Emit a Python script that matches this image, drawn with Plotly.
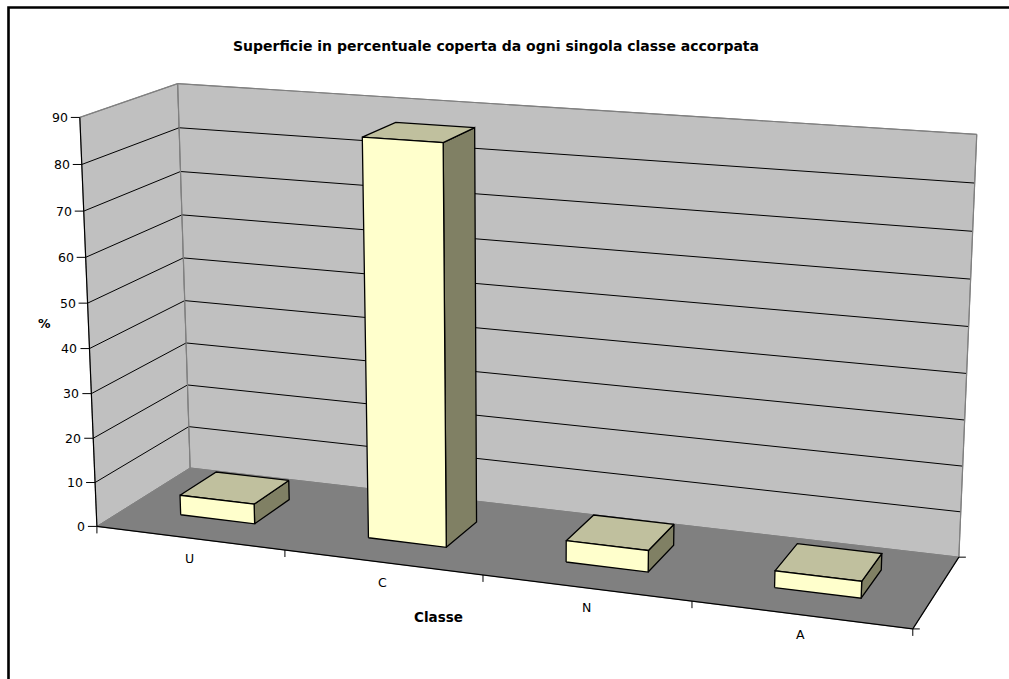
import numpy as np
import plotly.graph_objects as go

# ---- data -------------------------------------------------------------
categories = ["U", "C", "N", "A"]
values = [4.5, 87.2, 4.7, 3.6]          # % of surface per class
value_ticks = list(range(0, 91, 10))
y_max = 90

title = "Superficie in percentuale coperta da ogni singola classe accorpata"
x_title = "Classe"
y_title = "%"

# ---- 3D view: plot box (category, value, depth) -> page pixels ----------
W, H = 1009, 679
n_cat = len(categories)

# screen position of reference points of the plot box (camera calibration)
calib_world = [
    (0, 0, 0), (0, 90, 0), (0, 50, 0), (0, 90, 1), (0, 80, 1), (0, 10, 1),
    (0, 0, 1), (4, 0, 1), (4, 90, 1), (4, 50, 1), (4, 0, 0),
    (1, 0, 0), (2, 0, 0), (3, 0, 0),
]
calib_screen = [
    (97, 526), (80, 118), (87, 303), (178, 83), (179, 128), (189, 427),
    (190, 468), (959, 557), (977, 134), (968, 327), (913, 629),
    (285, 550), (483, 575), (692, 601),
]


def fit_camera(world, screen):
    wp = np.array([[x / n_cat, y / y_max, z] for x, y, z in world], float)
    sp = np.array(screen, float)
    mean = sp.mean(axis=0)
    scale = np.sqrt(2) / np.mean(np.linalg.norm(sp - mean, axis=1))
    T = np.array([[scale, 0, -scale * mean[0]],
                  [0, scale, -scale * mean[1]],
                  [0, 0, 1]])
    spn = (sp - mean) * scale
    rows = []
    for (X, Y, Z), (u, v) in zip(wp, spn):
        P = [X, Y, Z, 1.0]
        rows.append(P + [0, 0, 0, 0] + [-u * p for p in P])
        rows.append([0, 0, 0, 0] + P + [-v * p for p in P])
    _, _, vt = np.linalg.svd(np.array(rows))
    M = vt[-1].reshape(3, 4)
    return np.linalg.inv(T) @ M


CAM = fit_camera(calib_world, calib_screen)


def proj(x, y, z):
    h = CAM @ np.array([x / n_cat, y / y_max, z, 1.0])
    return h[0] / h[2], h[1] / h[2]


def poly(points, fill, line_color, line_width):
    pts = [proj(*p) for p in points]
    pts.append(pts[0])
    return go.Scatter(
        x=[p[0] for p in pts], y=[p[1] for p in pts],
        mode="lines", fill="toself", fillcolor=fill,
        line=dict(color=line_color, width=line_width),
        hoverinfo="skip", showlegend=False,
    )


def segments(pairs, color, width, offsets=None):
    xs, ys = [], []
    for k, (a, b) in enumerate(pairs):
        pa, pb = proj(*a), proj(*b)
        if offsets is not None:
            pb = (pa[0] + offsets[k][0], pa[1] + offsets[k][1])
        xs += [pa[0], pb[0], None]
        ys += [pa[1], pb[1], None]
    return go.Scatter(x=xs, y=ys, mode="lines",
                      line=dict(color=color, width=width),
                      hoverinfo="skip", showlegend=False)


WALL = "#C0C0C0"
FLOOR = "#808080"
EDGE = "#808080"
FRONT = "#FFFFCC"
TOP = "#C0C09E"
SIDE = "#808064"

traces = []

# walls and floor
traces.append(poly([(0, 0, 0), (0, y_max, 0), (0, y_max, 1), (0, 0, 1)], WALL, EDGE, 1))
traces.append(poly([(0, 0, 1), (0, y_max, 1), (n_cat, y_max, 1), (n_cat, 0, 1)], WALL, EDGE, 1))
traces.append(poly([(0, 0, 0), (n_cat, 0, 0), (n_cat, 0, 1), (0, 0, 1)], FLOOR, EDGE, 1))

# major gridlines on the two walls
grid = []
for t in value_ticks[1:-1]:
    grid.append(((0, t, 0), (0, t, 1)))
    grid.append(((0, t, 1), (n_cat, t, 1)))
traces.append(segments(grid, "#000000", 1))

# wall borders
traces.append(segments([((0, y_max, 0), (0, y_max, 1)),
                        ((0, y_max, 1), (n_cat, y_max, 1)),
                        ((0, 0, 1), (0, y_max, 1)),
                        ((n_cat, 0, 1), (n_cat, y_max, 1))], EDGE, 1.2))

# axis lines
traces.append(segments([((0, 0, 0), (0, y_max, 0)),
                        ((0, 0, 0), (n_cat, 0, 0)),
                        ((n_cat, 0, 0), (n_cat, 0, 1))], "#000000", 1.2))

# tick marks
ticks, offs = [], []
for t in value_ticks:
    ticks.append(((0, t, 0), None)); offs.append((-9, 0))
for i in range(n_cat + 1):
    ticks.append(((i, 0, 0), None)); offs.append((0, 7))
ticks.append(((n_cat, 0, 0), None)); offs.append((7, 0))
ticks.append(((n_cat, 0, 1), None)); offs.append((7, 0))
traces.append(segments([(a, a) for a, _ in ticks], "#000000", 1, offs))

# 3D columns, drawn back (left) to front (right)
bar_w, bar_d = 0.4, 0.4
for i, (cat, v) in enumerate(zip(categories, values)):
    x0, x1 = i + (1 - bar_w) / 2, i + (1 + bar_w) / 2
    z0, z1 = (1 - bar_d) / 2, (1 + bar_d) / 2
    traces.append(poly([(x1, 0, z0), (x1, 0, z1), (x1, v, z1), (x1, v, z0)], SIDE, "#000000", 1.3))
    traces.append(poly([(x0, v, z0), (x1, v, z0), (x1, v, z1), (x0, v, z1)], TOP, "#000000", 1.3))
    traces.append(poly([(x0, 0, z0), (x1, 0, z0), (x1, v, z0), (x0, v, z0)], FRONT, "#000000", 1.3))

fig = go.Figure(traces)

FONT = "DejaVu Sans, Arial, sans-serif"
ann = []
for t in value_ticks:
    px, py = proj(0, t, 0)
    ann.append(dict(x=px - 10, y=py, text=str(t), xanchor="right", yanchor="middle",
                    font=dict(size=12.5, color="#000000")))
for i, cat in enumerate(categories):
    px, py = proj(i + 0.5, 0, 0)
    ann.append(dict(x=px, y=py + 20, text=cat, xanchor="center", yanchor="middle",
                    font=dict(size=12.5, color="#000000")))
ann.append(dict(x=496, y=46, text=f"<b>{title}</b>", xanchor="center", yanchor="middle",
                font=dict(size=14, color="#000000")))
ann.append(dict(x=438, y=617, text=f"<b>{x_title}</b>", xanchor="center", yanchor="middle",
                font=dict(size=13.5, color="#000000")))
ann.append(dict(x=44, y=323, text=f"<b>{y_title}</b>", xanchor="center", yanchor="middle",
                font=dict(size=12.5, color="#000000")))
for a in ann:
    a.update(xref="x", yref="y", showarrow=False)

fig.update_layout(
    width=W, height=H,
    margin=dict(l=0, r=0, t=0, b=0, pad=0),
    paper_bgcolor="#FFFFFF", plot_bgcolor="#FFFFFF",
    font=dict(family=FONT, size=13, color="#000000"),
    xaxis=dict(range=[0, W], visible=False, fixedrange=True),
    yaxis=dict(range=[H, 0], visible=False, fixedrange=True),
    annotations=ann,
    shapes=[dict(type="rect", xref="x", yref="y", x0=8.5, y0=7.5, x1=W + 20, y1=H + 20,
                 line=dict(color="#000000", width=2.6), fillcolor="rgba(0,0,0,0)",
                 layer="above")],
    showlegend=False,
)

fig.write_html("out.html")
